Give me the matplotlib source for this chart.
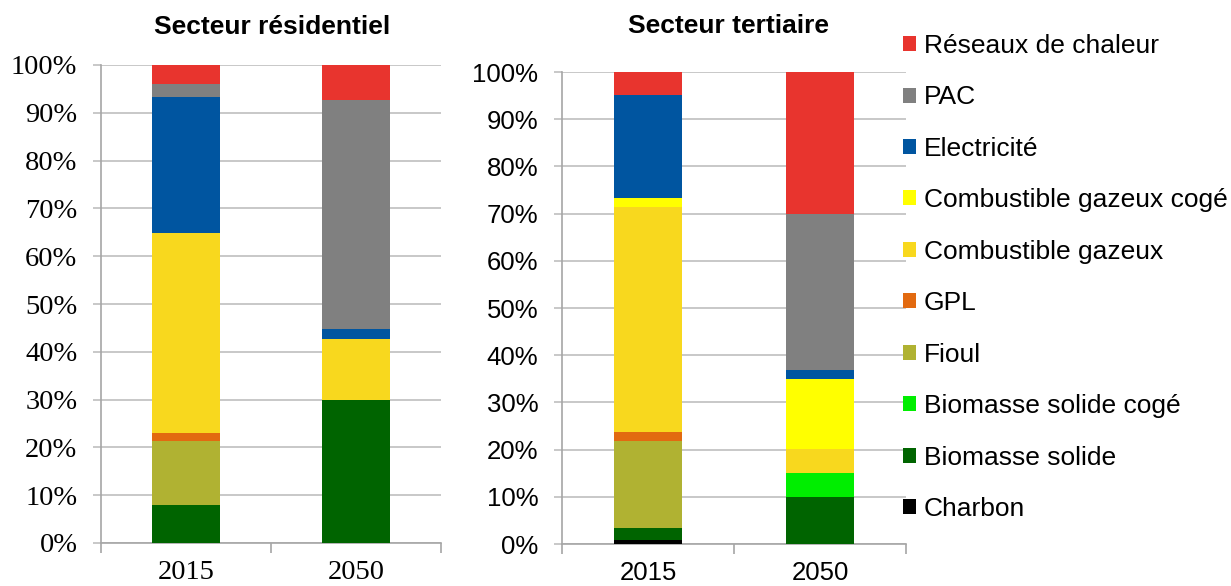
import matplotlib
matplotlib.use("Agg")
import matplotlib.pyplot as plt
from matplotlib.patches import Patch

years = ["2015", "2050"]
series_names = ["Charbon", "Biomasse solide", "Biomasse solide cogé", "Fioul", "GPL",
                "Combustible gazeux", "Combustible gazeux cogé", "Electricité", "PAC",
                "Réseaux de chaleur"]
colors = ["#000000", "#006400", "#00EE00", "#B0B232", "#E26A10",
          "#F8D81E", "#FFFF00", "#0055A0", "#808080", "#E8342E"]

# values in % for [2015, 2050]
residentiel = {
    "Charbon": [0.0, 0.0],
    "Biomasse solide": [8.0, 30.0],
    "Biomasse solide cogé": [0.0, 0.0],
    "Fioul": [13.3, 0.0],
    "GPL": [1.8, 0.0],
    "Combustible gazeux": [41.7, 12.6],
    "Combustible gazeux cogé": [0.0, 0.0],
    "Electricité": [28.6, 2.1],
    "PAC": [2.7, 47.9],
    "Réseaux de chaleur": [3.9, 7.4],
}
tertiaire = {
    "Charbon": [0.9, 0.0],
    "Biomasse solide": [2.5, 10.0],
    "Biomasse solide cogé": [0.0, 5.0],
    "Fioul": [18.5, 0.0],
    "GPL": [1.9, 0.0],
    "Combustible gazeux": [47.7, 5.1],
    "Combustible gazeux cogé": [1.7, 14.9],
    "Electricité": [21.9, 1.9],
    "PAC": [0.0, 33.0],
    "Réseaux de chaleur": [4.9, 30.1],
}
yticks = [0, 10, 20, 30, 40, 50, 60, 70, 80, 90, 100]
ytick_labels = [f"{v}%" for v in yticks]

W, H = 1231, 586
fig = plt.figure(figsize=(W / 100, H / 100), dpi=100)

grid_c = "#BFBFBF"
spine_c = "#A6A6A6"

def make_ax(rect, data, family, fsize, xpad, title, title_x, title_y):
    ax = fig.add_axes(rect)
    xs = [0.5, 1.5]
    bottoms = [0.0, 0.0]
    for name, col in zip(series_names, colors):
        vals = data[name]
        ax.bar(xs, vals, width=0.4, bottom=bottoms, color=col, zorder=3, linewidth=0)
        bottoms = [b + v for b, v in zip(bottoms, vals)]
    ax.set_xlim(0, 2)
    ax.set_ylim(0, 100)
    ax.set_yticks(yticks)
    ax.set_yticklabels(ytick_labels, family=family, fontsize=fsize)
    ax.yaxis.grid(True, color=grid_c, linewidth=1.2, zorder=0)
    ax.set_axisbelow(True)
    ax.set_xticks([0, 1, 2])
    ax.set_xticklabels([])
    ax.set_xticks(xs, minor=True)
    ax.set_xticklabels(years, minor=True, family=family, fontsize=fsize)
    ax.tick_params(axis="x", which="major", length=7, width=1.2, color=spine_c, direction="out")
    ax.tick_params(axis="x", which="minor", length=0, pad=xpad)
    ax.tick_params(axis="y", length=6, width=1.2, color=grid_c, pad=11)
    for s in ["top", "right"]:
        ax.spines[s].set_visible(False)
    for s in ["left", "bottom"]:
        ax.spines[s].set_color(spine_c)
        ax.spines[s].set_linewidth(1.2)
    fig.text(title_x / W, 1 - title_y / H, title, ha="center", va="center",
             fontsize=19, fontweight="bold", family="Liberation Sans")
    return ax

ax1 = make_ax([101 / W, 1 - 543 / H, 340 / W, 478 / H], residentiel, "Liberation Serif", 20.5, 12,
              "Secteur résidentiel", 272, 27)
ax2 = make_ax([562 / W, 1 - 544 / H, 344 / W, 472 / H], tertiaire, "Liberation Sans", 18.5, 12,
              "Secteur tertiaire", 729, 26)

handles = [Patch(facecolor=c, edgecolor="none", label=n)
           for n, c in zip(series_names[::-1], colors[::-1])]
fig.legend(handles=handles, loc="upper left", bbox_to_anchor=(903 / W, 1 - 34 / H),
           frameon=False, prop={"family": "Liberation Sans", "size": 19},
           handlelength=0.5, handleheight=0.5, handletextpad=0.28,
           labelspacing=1.04, borderaxespad=0, borderpad=0)

fig.savefig("out.png", dpi=100)
